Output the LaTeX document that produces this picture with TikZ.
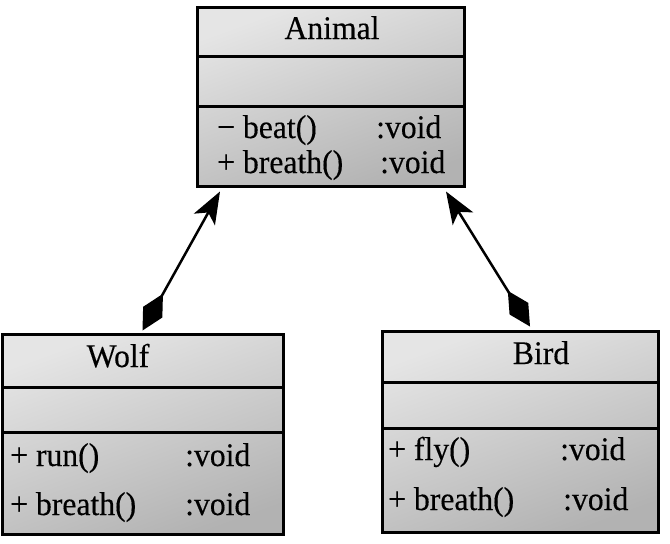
\documentclass[tikz,border=0pt]{standalone}
\usepackage{fontspec}
\setmainfont{Liberation Serif}[FakeStretch=0.96,FakeBold=0.3]
\usetikzlibrary{arrows.meta}
\begin{document}
\begin{tikzpicture}[x=1pt,y=-1pt,
  classbox/.style={draw=black, line width=3pt, top color=black!10, bottom color=black!30, shading angle=20, inner sep=0pt},
  sep/.style={line width=3pt},
  txt/.style={anchor=base west, inner sep=0pt, font=\fontsize{33}{36}\selectfont},
  ttl/.style={anchor=base, inner sep=0pt, font=\fontsize{33}{36}\selectfont},
  assoc/.style={line width=2.5pt, {Diamond[length=42pt,width=22pt]}-{Stealth[length=32pt,width=24pt,inset=8pt]}}]
\useasboundingbox (0,0) rectangle (670,544);
% Animal
\node[classbox, minimum width=267pt, minimum height=179pt] (animal) at (331,96.5) {};
\draw[sep] (197,56.5) -- (465,56.5);
\draw[sep] (197,106.5) -- (465,106.5);
\node[ttl] (animalname) at (332,39) {Animal};
\node[txt] (a1) at (217,138) {− beat()};
\node[txt] (a1t) at (376,138) {:void};
\node[txt] (a2) at (217,173) {+ breath()};
\node[txt] (a2t) at (380,173) {:void};
% Wolf
\node[classbox, minimum width=281pt, minimum height=200pt] (wolf) at (142.5,434) {};
\draw[sep] (2,387) -- (283,387);
\draw[sep] (2,432) -- (283,432);
\node[ttl] (wolfname) at (118,367) {Wolf};
\node[txt] (w1) at (10,466) {+ run()};
\node[txt] (w1t) at (185,466) {:void};
\node[txt] (w2) at (10,515) {+ breath()};
\node[txt] (w2t) at (185,515) {:void};
% Bird
\node[classbox, minimum width=276pt, minimum height=201pt] (bird) at (520,431.5) {};
\draw[sep] (382,382) -- (658,382);
\draw[sep] (382,428) -- (658,428);
\node[ttl] (birdname) at (541,364) {Bird};
\node[txt] (b1) at (388,460) {+ fly()};
\node[txt] (b1t) at (560,460) {:void};
\node[txt] (b2) at (388,510) {+ breath()};
\node[txt] (b2t) at (563,510) {:void};
% connectors
\coordinate (atl) at ([xshift=-111pt,yshift=-4pt]animal.south);
\coordinate (atr) at ([xshift=115pt,yshift=-4pt]animal.south);
\coordinate (wtop) at ([yshift=2pt]wolf.north);
\coordinate (btop) at ([xshift=10pt,yshift=3pt]bird.north);
\draw[assoc] (wtop) -- (atl);
\draw[assoc] (btop) -- (atr);
\end{tikzpicture}
\end{document}
